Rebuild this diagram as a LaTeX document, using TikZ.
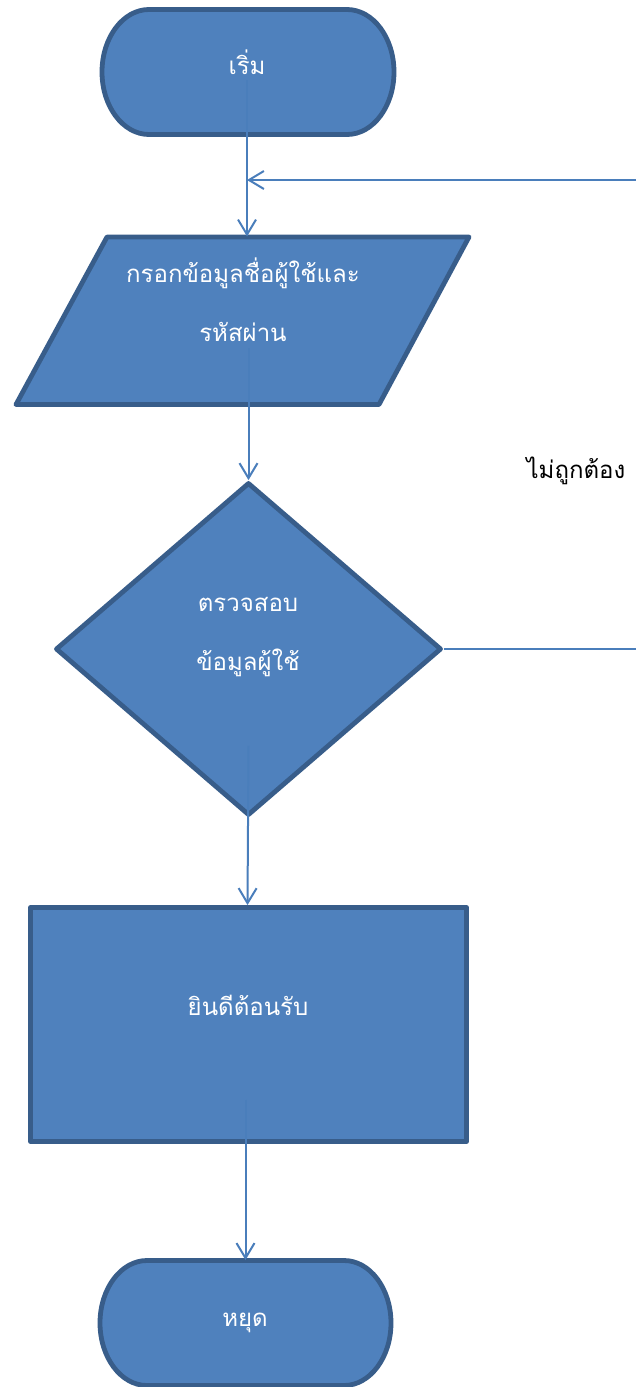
\documentclass[tikz,border=0pt]{standalone}
\usepackage{fontspec}
\newfontfamily\thaifont[Script=Thai]{Loma}
\usetikzlibrary{arrows.meta,shapes.geometric,calc}
\definecolor{fillb}{HTML}{4F81BD}
\definecolor{edgeb}{HTML}{385D8A}
\definecolor{lineb}{HTML}{4A7EBB}
\begin{document}
\begin{tikzpicture}[x=1pt,y=-1pt,
  shapebox/.style={fill=fillb, draw=edgeb, line width=4.8pt, line join=round},
  holder/.style={inner sep=0pt, outer sep=0pt},
  txt/.style={text=white, font=\thaifont\fontsize{24}{28}\selectfont, inner sep=0pt, anchor=base},
  lbl/.style={text=black, font=\thaifont\fontsize{24}{28}\selectfont, inner sep=0pt, anchor=base},
  conn/.style={draw=lineb, line width=2pt, -{Straight Barb[length=15pt,width=18pt]}},
  loopline/.style={draw=lineb, line width=2pt},
]
\useasboundingbox (0,0) rectangle (635,1387);
\fill[white] (0,0) rectangle (635,1387);

% start terminal
\node[holder, minimum width=292pt, minimum height=126pt] (start) at (248,72) {};
\draw[shapebox] (149,9.5) -- (347,9.5) arc[start angle=90, end angle=-90, x radius=47pt, y radius=62.5pt]
  -- (149,134.5) arc[start angle=270, end angle=90, x radius=47pt, y radius=62.5pt] -- cycle;
\node[txt] (tstart) at (247,74) {เริ่ม};

% input parallelogram
\node[holder, minimum width=362pt, minimum height=168.5pt] (input) at (242.5,320.75) {};
\draw[shapebox] (107,237) -- (469,237) -- (379,404.5) -- (16,404.5) -- cycle;
\node[txt] (tin1) at (243,282) {กรอกข้อมูลชื่อผู้ใช้และ};
\node[txt] (tin2) at (243,341) {รหัสผ่าน};

% decision
\node[shapebox, diamond, inner sep=0pt, minimum width=386pt, minimum height=333pt] (decide) at (248.5,649) {};
\node[txt] (td1) at (248,611) {ตรวจสอบ};
\node[txt] (td2) at (248,670) {ข้อมูลผู้ใช้};

% welcome
\node[shapebox, rectangle, inner sep=0pt, minimum width=436pt, minimum height=234pt] (welcome) at (248.5,1024.5) {};
\node[txt] (tw) at (248,1015) {ยินดีต้อนรับ};

% stop terminal
\node[holder, minimum width=291pt, minimum height=126pt] (stop) at (245.5,1323) {};
\draw[shapebox] (147,1260.5) -- (344,1260.5) arc[start angle=90, end angle=-90, x radius=47pt, y radius=62.5pt]
  -- (147,1385.5) arc[start angle=270, end angle=90, x radius=47pt, y radius=62.5pt] -- cycle;
\node[txt] (tstop) at (245,1326) {หยุด};

% connectors
\coordinate (join) at (247,180);
\coordinate (rightA) at (641,649);
\coordinate (rightB) at (641,180);
\draw[conn] ([xshift=-1pt,yshift=55pt]start.south) -- ([xshift=-1pt]start.south |- input.north);
\draw[conn] ([yshift=57pt]input.south -| decide.north) -- (decide.north);
\draw[conn] ([yshift=72pt]decide.south) -- ([xshift=-1pt]decide.south |- welcome.north);
\draw[conn] ([yshift=44pt]welcome.south -| stop.north) -- (stop.north);
\draw[loopline] (decide.east) -- (rightA) -- (rightB);
\draw[conn] (rightB) -- (join);

\node[lbl] (lno) at (576,478) {ไม่ถูกต้อง};
\end{tikzpicture}
\end{document}
